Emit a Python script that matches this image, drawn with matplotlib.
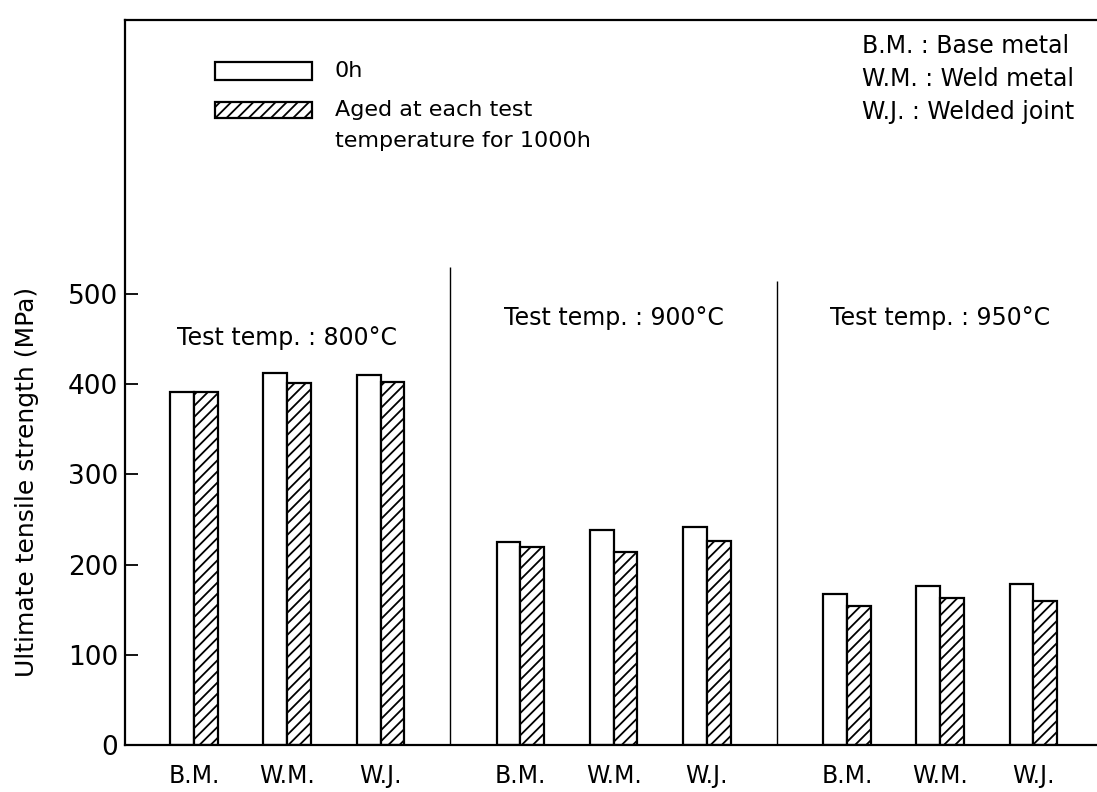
import matplotlib
matplotlib.use("Agg")
from matplotlib import pyplot as plt
import matplotlib.patches as mpatches
import numpy as np

temps = ['800', '900', '950']
materials = ['B.M.', 'W.M.', 'W.J.']
uts_0h = [391, 412, 410,
          225, 238, 242,
          168, 176, 179]
uts_aged = [391, 402, 403,
            220, 214, 226,
            154, 163, 160]
divider_tops = [530, 515]
key_lines = ['B.M. : Base metal', 'W.M. : Weld metal', 'W.J. : Welded joint']

W, H = 1097, 792
plt.rcParams['font.family'] = 'DejaVu Sans'
plt.rcParams['hatch.linewidth'] = 1.3

def fx(px):
    return px / W

def fy(py):
    return 1 - py / H

fig = plt.figure(figsize=(W / 100, H / 100), dpi=100)
ax = fig.add_axes([fx(125), fy(745), 1 - fx(125) + 0.01, fy(20) - fy(745)])

# pair centres: 3 per temperature, gap between temperatures
gap = 3.5
pos = np.array([g * gap + i for g in range(len(temps)) for i in range(len(materials))])
bw = 0.255

ax.bar(pos - bw, uts_0h, width=bw, align='edge', facecolor='white',
       edgecolor='black', linewidth=1.6)
ax.bar(pos, uts_aged, width=bw, align='edge', facecolor='white',
       edgecolor='black', linewidth=1.6, hatch='///')

# dividers between test temperatures
for g, top in enumerate(divider_tops):
    xd = g * gap + 2 + (gap - 2) / 2
    ax.vlines(xd, 0, top, color='black', linewidth=1.0)

label_y = [451, 473, 473]
for g, t in enumerate(temps):
    ax.text(g * gap + 1, label_y[g], 'Test temp. : ' + t + '°C', ha='center',
            va='center', fontsize=17)

ax.set_xlim(-0.74, 9.8)
ax.set_ylim(0, 804)
ax.set_yticks([0, 100, 200, 300, 400, 500])
ax.set_xticks(pos)
ax.set_xticklabels(materials * len(temps))
ax.tick_params(axis='x', length=0, pad=14, labelsize=17)
ax.tick_params(axis='y', direction='in', length=9, width=1.3, pad=5, labelsize=19)
ax.set_ylabel('Ultimate tensile strength (MPa)', fontsize=18)
ax.yaxis.set_label_coords(-0.0875, 0.363)

ax.spines['right'].set_visible(False)
for s in ['left', 'top', 'bottom']:
    ax.spines[s].set_linewidth(1.6)

# legend boxes drawn by hand
fig.patches.append(mpatches.Rectangle((fx(215), fy(80)), fx(312) - fx(215), fy(62) - fy(80),
                                      transform=fig.transFigure, facecolor='white',
                                      edgecolor='black', linewidth=1.6))
fig.patches.append(mpatches.Rectangle((fx(215), fy(118)), fx(312) - fx(215), fy(102) - fy(118),
                                      transform=fig.transFigure, facecolor='white',
                                      edgecolor='black', linewidth=1.6, hatch='///'))
fig.text(fx(335), fy(71), '0h', fontsize=16, va='center')
fig.text(fx(335), fy(110), 'Aged at each test', fontsize=16, va='center')
fig.text(fx(335), fy(141), 'temperature for 1000h', fontsize=16, va='center')

for k, line in enumerate(key_lines):
    fig.text(fx(862), fy(46 + 33 * k), line, fontsize=17, va='center')

fig.savefig('out.png', dpi=100)
